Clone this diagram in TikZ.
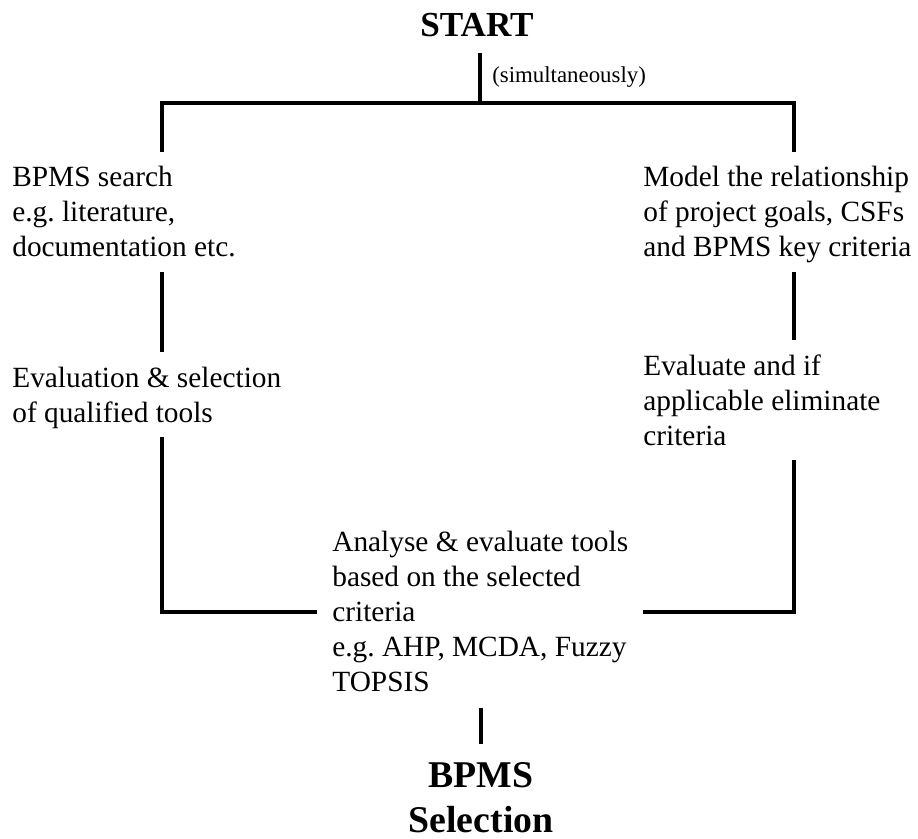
\documentclass[tikz,border=0pt]{standalone}
\usepackage{fontspec}
\setmainfont{Liberation Serif}
\frenchspacing
\usetikzlibrary{positioning}
\tikzset{
  link/.style={line width=2pt},
  txt/.style={anchor=base west,inner sep=0pt,align=left,
    font=\fontsize{16.7}{19.9}\selectfont},
  headline/.style={anchor=base,inner sep=0pt,align=center,
    font=\fontsize{20}{24}\selectfont\bfseries},
  note/.style={anchor=base west,inner sep=0pt,font=\fontsize{13}{15}\selectfont},
}

\begin{document}
\begin{tikzpicture}[x=0.02cm,y=-0.02cm]
  \useasboundingbox (0,0) rectangle (918,838);
  % start and end (base = last line)
  \node[headline] (start) at (477,37) {START};
  \node[headline,font=\fontsize{21.5}{25.5}\selectfont\bfseries] (selection) at (481,832) {BPMS\\Selection};
  \node[note] (simul) at (492,83) {(simultaneously)};
  % left branch
  \node[txt] (search) at (12,256) {BPMS search\\e.g. literature,\\documentation etc.};
  \node[txt] (evalsel) at (12,422) {Evaluation \& selection\\of qualified tools};
  % right branch
  \node[txt] (model) at (643,256) {Model the relationship\\of project goals, CSFs\\and BPMS key criteria};
  \node[txt] (evalcrit) at (643,445) {Evaluate and if\\applicable eliminate\\criteria};
  % merge
  \node[txt] (analyse) at (332,691) {Analyse \& evaluate tools\\based on the selected\\criteria\\e.g. AHP, MCDA, Fuzzy\\TOPSIS};

  % line ends
  \coordinate (top) at (480,53);
  \coordinate (split) at (480,103);
  \coordinate (splitL) at (162,103);
  \coordinate (splitR) at (794,103);
  \coordinate (searchIn) at (162,152);
  \coordinate (modelIn) at (794,152);
  \coordinate (searchOut) at (162,272);
  \coordinate (evalselIn) at (162,352);
  \coordinate (modelOut) at (794,272);
  \coordinate (evalcritIn) at (794,340);
  \coordinate (evalselOut) at (162,437);
  \coordinate (evalcritOut) at (794,460);
  \coordinate (joinL) at (162,612);
  \coordinate (joinR) at (794,612);
  \coordinate (analyseL) at (317,612);
  \coordinate (analyseR) at (643,612);
  \coordinate (analyseOut) at (481,708);
  \coordinate (selectionIn) at (481,744);

  \draw[link] (top) -- (split);
  \draw[link] (searchIn) -- (splitL) -- (splitR) -- (modelIn);
  \draw[link] (searchOut) -- (evalselIn);
  \draw[link] (modelOut) -- (evalcritIn);
  \draw[link] (evalselOut) -- (joinL) -- (analyseL);
  \draw[link] (evalcritOut) -- (joinR) -- (analyseR);
  \draw[link] (analyseOut) -- (selectionIn);
\end{tikzpicture}
\end{document}
